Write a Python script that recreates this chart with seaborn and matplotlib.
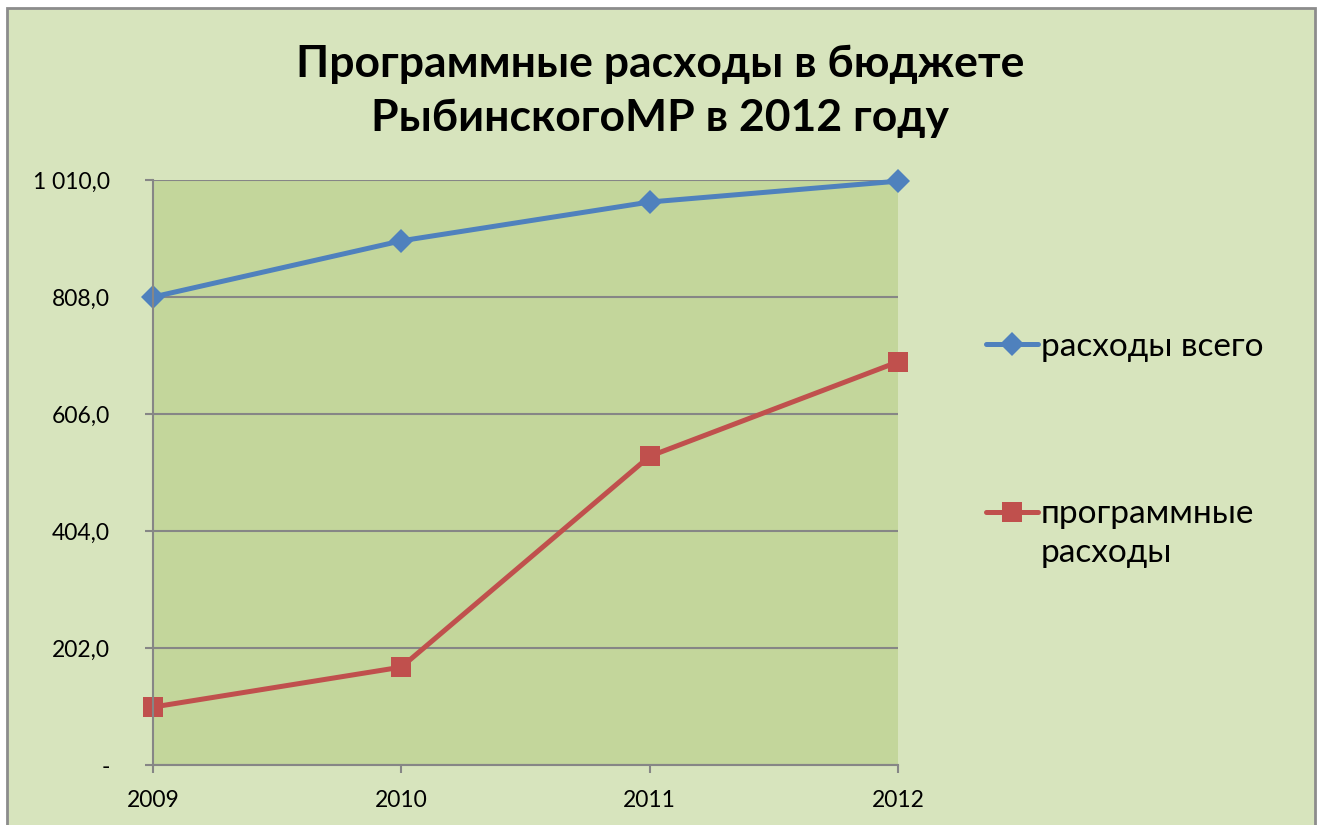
import pandas as pd
import matplotlib.pyplot as plt
import matplotlib.patches as mpatches
from matplotlib.legend_handler import HandlerLine2D
from matplotlib.transforms import Affine2D
import seaborn as sns

years = [2009, 2010, 2011, 2012]
total_spend = [808.0, 905.0, 972.0, 1008.0]
program_spend = [100.0, 169.0, 533.0, 696.0]
series_names = ['расходы всего', 'программные\nрасходы']
y_ticks = [0, 202, 404, 606, 808, 1010]
y_tick_labels = ['-', '202,0', '404,0', '606,0', '808,0', '1 010,0']
title_text = 'Программные расходы в бюджете\nРыбинскогоМР в 2012 году'

df = pd.DataFrame({
    'year': years * 2,
    'value': total_spend + program_spend,
    'series': [series_names[0]] * 4 + [series_names[1]] * 4,
})


class FirstLineHandler(HandlerLine2D):
    # puts the legend key next to the first line of a two-line label
    def create_artists(self, legend, orig_handle, xdescent, ydescent, width, height,
                       fontsize, trans):
        trans = trans + Affine2D().translate(0, 22)
        return super().create_artists(legend, orig_handle, xdescent, ydescent, width,
                                      height, fontsize, trans)


sns.set_style('white')
plt.rcParams['font.family'] = ['Lato', 'Noto Sans', 'DejaVu Sans']
plt.rcParams['text.color'] = 'black'
plt.rcParams['xtick.labelcolor'] = 'black'
plt.rcParams['ytick.labelcolor'] = 'black'

fig = plt.figure(figsize=(13.2, 8.25), dpi=100, facecolor='white')
# chart area background with grey border
fig.patches.append(mpatches.Rectangle((7 / 1320, -0.02), 1308 / 1320, 1 - 8 / 825 + 0.02,
                                      transform=fig.transFigure, facecolor='#d7e4bd',
                                      edgecolor='#8c8c8c', linewidth=2, zorder=-5))

ax = fig.add_axes([153 / 1320, 60 / 825, 745 / 1320, 585 / 825])
ax.set_facecolor('#c3d69b')

sns.lineplot(data=df[df['series'] == series_names[0]], x='year', y='value',
             color='#4f81bd', marker='D', markersize=12, markeredgewidth=0,
             linewidth=3.6, label=series_names[0], clip_on=False, ax=ax)
sns.lineplot(data=df[df['series'] == series_names[1]], x='year', y='value',
             color='#c0504d', marker='s', markersize=14, markeredgewidth=0,
             linewidth=3.6, label=series_names[1], clip_on=False, ax=ax)

ax.set_xlim(2009, 2012)
ax.set_ylim(0, 1010)
ax.set_xticks(years)
ax.set_xticklabels([str(y) for y in years])
ax.set_yticks(y_ticks)
ax.set_yticklabels(y_tick_labels)
ax.set_xlabel('')
ax.set_ylabel('')
ax.yaxis.grid(True, color='#868686', linewidth=1.5)
ax.set_axisbelow(True)
for side in ['top', 'right']:
    ax.spines[side].set_visible(False)
for side in ['left', 'bottom']:
    ax.spines[side].set_color('#868686')
    ax.spines[side].set_linewidth(1.5)
ax.tick_params(axis='y', direction='out', length=6, width=1.5, color='#868686',
               labelcolor='black', pad=25, labelsize=16.5, left=True)
ax.tick_params(axis='x', direction='out', length=6, width=1.5, color='#868686',
               labelcolor='black', pad=12, labelsize=16.5, bottom=True)

handles, labels = ax.get_legend_handles_labels()
leg = ax.legend(handles, labels, loc='center left',
                bbox_to_anchor=(956 / 1320, 1 - 450 / 825),
                bbox_transform=fig.transFigure, frameon=False, fontsize=24,
                handlelength=1.55, handletextpad=0.1, labelspacing=4.1,
                handler_map={handles[1]: FirstLineHandler()})
for t in leg.get_texts():
    t.set_linespacing(1.4)
    t.set_color('black')

fig.text(0.5, 1 - 91 / 825, title_text, ha='center', va='center', color='black',
         fontsize=32, fontweight='bold', linespacing=1.4)

fig.savefig('out.png', dpi=100)
